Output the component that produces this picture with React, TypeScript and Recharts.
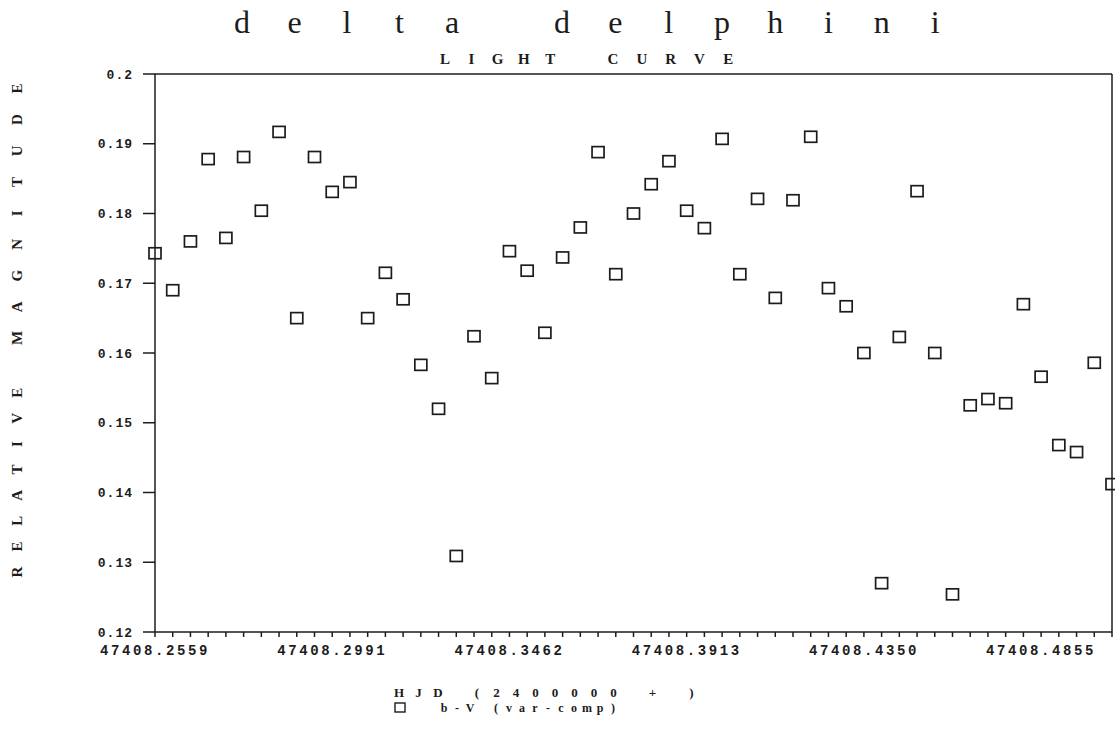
import React from "react";
import { ScatterChart, Scatter, XAxis, YAxis, ReferenceLine } from "recharts";

// B-V differential magnitude (var - comp), one value per observation, in time order
const bvDiff = [
  0.1743, 0.169, 0.176, 0.1878, 0.1765, 0.1881, 0.1804, 0.1917, 0.165, 0.1881,
  0.1831, 0.1845, 0.165, 0.1715, 0.1677, 0.1583, 0.152, 0.1309, 0.1624, 0.1564,
  0.1746, 0.1718, 0.1629, 0.1737, 0.178, 0.1888, 0.1713, 0.18, 0.1842, 0.1875,
  0.1804, 0.1779, 0.1907, 0.1713, 0.1821, 0.1679, 0.1819, 0.191, 0.1693, 0.1667,
  0.16, 0.127, 0.1623, 0.1832, 0.16, 0.1254, 0.1525, 0.1534, 0.1528, 0.167,
  0.1566, 0.1468, 0.1458, 0.1586, 0.1412,
];

// HJD labels printed under every tenth observation
const hjdTickIndex = [0, 10, 20, 30, 40, 50];
const hjdTickLabels = ["47408.2559", "47408.2991", "47408.3462", "47408.3913", "47408.4350", "47408.4855"];

const magTicks = [0.12, 0.13, 0.14, 0.15, 0.16, 0.17, 0.18, 0.19, 0.2];

const data = bvDiff.map((v, i) => ({ obs: i, bv: v }));
const allObs = bvDiff.map((_, i) => i);

const MONO = "'Liberation Mono', 'DejaVu Sans Mono', monospace";
const SERIF = "'Liberation Serif', 'DejaVu Serif', serif";
const INK = "#1c1c1c";

// typewriter look: every glyph on its own fixed pitch
const pitch = (text: string, x0: number, step: number) =>
  text.split("").map((_, i) => x0 + i * step).join(" ");

const HollowSquare = (props: any) => {
  const { cx, cy } = props;
  if (cx == null || cy == null) return null;
  return <rect x={cx - 6} y={cy - 5.5} width={12} height={11} fill="none" stroke={INK} strokeWidth={1.7} />;
};

const hjdFormat = (v: number) => {
  const k = hjdTickIndex.indexOf(v);
  return k >= 0 ? hjdTickLabels[k] : "";
};

const App = () => {
  return (
    <div style={{ position: "absolute", left: 0, top: 0, width: 1115, height: 737, background: "#fff" }}>
      <ScatterChart width={1115} height={737} margin={{ top: 74, right: 3, bottom: 75, left: 0 }}>
        <XAxis
          dataKey="obs"
          type="number"
          domain={[0, 54]}
          ticks={allObs}
          interval={0}
          tickFormatter={hjdFormat}
          tickSize={5}
          tickMargin={8}
          height={30}
          stroke={INK}
          strokeWidth={1.5}
          tick={{ fontFamily: MONO, fontSize: 14, fontWeight: 700, fill: INK, letterSpacing: 2.6 }}
        />
        <YAxis
          dataKey="bv"
          type="number"
          domain={[0.12, 0.2]}
          ticks={magTicks}
          interval={0}
          width={155}
          tickSize={12}
          tickMargin={10}
          stroke={INK}
          strokeWidth={1.5}
          tickFormatter={(v: number) => String(Number(v.toFixed(2)))}
          tick={{ fontFamily: MONO, fontSize: 13, fontWeight: 700, fill: INK, letterSpacing: 1 }}
        />
        <ReferenceLine y={0.2} stroke={INK} strokeWidth={1.5} />
        <ReferenceLine x={54} stroke={INK} strokeWidth={1.5} />
        <Scatter name="B-V (var-comp)" data={data} shape={HollowSquare} isAnimationActive={false} />
      </ScatterChart>
      <svg
        width={1115}
        height={737}
        style={{ position: "absolute", left: 0, top: 0, pointerEvents: "none" }}
        fontFamily={SERIF}
        fill={INK}
        textAnchor="middle"
      >
        <text x={pitch("delta", 242, 52.5)} y={33} fontSize={32}>delta</text>
        <text x={pitch("delphini", 562, 53.3)} y={33} fontSize={32}>delphini</text>
        <text x={pitch("LIGHT", 445, 26.3)} y={64} fontSize={15} fontWeight={700}>LIGHT</text>
        <text x={pitch("CURVE", 613, 28.8)} y={64} fontSize={15} fontWeight={700}>CURVE</text>
        <g transform="translate(22,580) rotate(-90)" fontSize={15} fontWeight={700}>
          <text x={pitch("RELATIVE", 8, 25.6)} y={0}>RELATIVE</text>
          <text x={pitch("MAGNITUDE", 242, 31.2)} y={0}>MAGNITUDE</text>
        </g>
        <text x={pitch("HJD (2400000 + )", 399, 19.5)} y={697} fontSize={13} fontWeight={700}>
          HJD (2400000 + )
        </text>
        <rect x={395} y={703} width={10} height={9} fill="none" stroke={INK} strokeWidth={1.4} />
        <text x={pitch("b-V (var-comp)", 444, 13)} y={712} fontSize={12} fontWeight={700}>
          b-V (var-comp)
        </text>
      </svg>
    </div>
  );
};

export default App;
